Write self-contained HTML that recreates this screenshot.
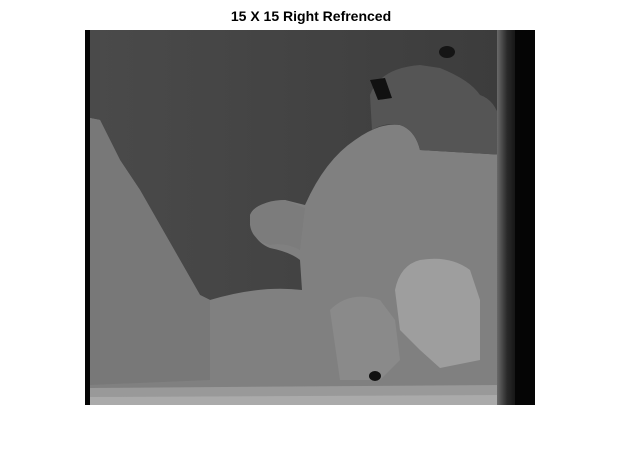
<!DOCTYPE html>
<html><head><meta charset="utf-8"><style>
html,body{margin:0;padding:0;background:#fff;width:622px;height:470px;overflow:hidden}
.t{position:absolute;left:0;width:622px;top:8px;text-align:center;font:bold 14px "Liberation Sans",sans-serif;color:#000}
svg{position:absolute;left:0;top:0}
</style></head><body>
<div class="t">15 X 15 Right Refrenced</div>
<svg width="622" height="470">
<defs>
<linearGradient id="rg" x1="0" x2="1"><stop offset="0" stop-color="#6a6a6a"/><stop offset="0.4" stop-color="#2a2a2a"/><stop offset="1" stop-color="#050505"/></linearGradient>
<linearGradient id="tg" x1="0" x2="1"><stop offset="0" stop-color="#4a4a4a"/><stop offset="1" stop-color="#3c3c3c"/></linearGradient>
</defs>
<rect x="85" y="30" width="450" height="375" fill="#808080"/>
<path d="M90,30 L505,30 L505,155 L420,150 Q415,130 400,125 Q380,122 355,140 Q325,160 305,205 L285,200 Q255,202 250,215 Q250,240 270,248 Q290,252 300,260 L302,290 Q260,285 210,300 L200,295 L180,260 L160,225 L140,190 L120,160 L100,120 L90,118 Z" fill="url(#tg)"/>
<path d="M370,95 Q380,68 420,65 L440,68 Q470,80 480,95 Q495,100 500,120 L505,155 L420,150 Q415,130 400,125 Q385,122 372,130 Z" fill="#555"/>
<path d="M90,118 L100,120 L120,160 L140,190 L160,225 L180,260 L200,295 L210,300 L210,380 L90,385 Z" fill="#787878"/>
<path d="M250,215 Q260,200 285,200 L305,208 L300,250 Q285,242 270,245 Q252,240 250,225 Z" fill="#7c7c7c"/>
<path d="M395,290 Q400,265 420,260 Q450,255 470,270 L480,300 L480,360 L440,368 L420,350 L400,330 Z" fill="#9e9e9e"/>
<path d="M330,310 Q350,290 380,300 L395,320 L400,360 L380,380 L340,380 Z" fill="#8a8a8a"/>
<path d="M90,388 L500,385 L500,405 L90,405 Z" fill="#999"/>
<path d="M90,397 L500,395 L500,405 L90,405 Z" fill="#aaa"/>
<rect x="497" y="30" width="25" height="375" fill="url(#rg)"/>
<rect x="515" y="30" width="20" height="375" fill="#050505"/>
<rect x="85" y="30" width="5" height="375" fill="#050505"/>
<path d="M370,80 L385,78 L392,98 L378,100 Z" fill="#111"/>
<ellipse cx="375" cy="376" rx="6" ry="5" fill="#111"/>
<ellipse cx="447" cy="52" rx="8" ry="6" fill="#151515"/>
</svg>
</body></html>
